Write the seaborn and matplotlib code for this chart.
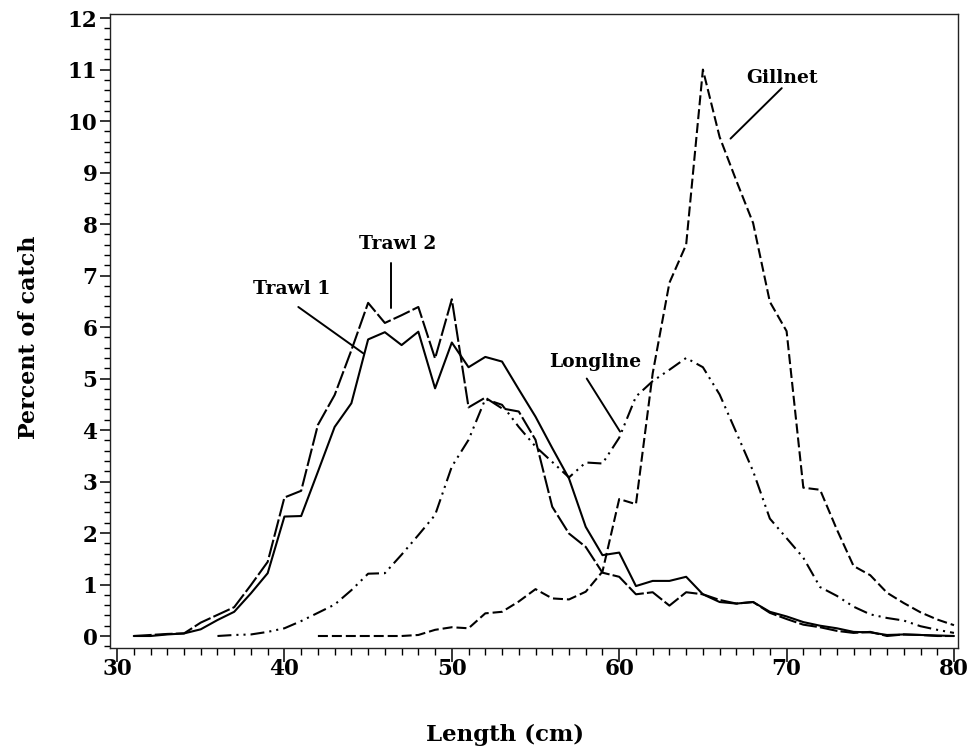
import numpy as np
import pandas as pd
import seaborn as sns
import matplotlib.pyplot as plt
from matplotlib.ticker import MultipleLocator

# Length-frequency of catch (percent) by gear type
trawl_len = list(range(31, 81))
trawl1 = [0.0, 0.0, 0.03, 0.05, 0.13, 0.31, 0.47, 0.83, 1.22, 2.32,
          2.33, 3.19, 4.06, 4.52, 5.76, 5.90, 5.65, 5.91, 4.81, 5.70,
          5.22, 5.42, 5.33, 4.79, 4.26, 3.65, 3.06, 2.12, 1.57, 1.62,
          0.97, 1.07, 1.07, 1.15, 0.81, 0.66, 0.63, 0.66, 0.47, 0.38,
          0.27, 0.20, 0.15, 0.08, 0.07, 0.02, 0.03, 0.02, 0.01, 0.0]
trawl2 = [0.0, 0.02, 0.04, 0.05, 0.26, 0.41, 0.56, 0.99, 1.44, 2.69,
          2.82, 4.10, 4.68, 5.55, 6.47, 6.08, 6.23, 6.39, 5.39, 6.54,
          4.44, 4.63, 4.42, 4.36, 3.81, 2.51, 1.99, 1.73, 1.23, 1.15,
          0.81, 0.85, 0.59, 0.85, 0.81, 0.70, 0.63, 0.66, 0.45, 0.33,
          0.22, 0.17, 0.10, 0.06, 0.08, 0.0, 0.03, 0.02, 0.0, 0.0]
longline_len = list(range(36, 81))
longline = [0.0, 0.02, 0.03, 0.08, 0.15, 0.29, 0.45, 0.61, 0.89, 1.21,
            1.22, 1.58, 1.96, 2.35, 3.29, 3.81, 4.60, 4.49, 4.06, 3.68,
            3.38, 3.08, 3.37, 3.35, 3.85, 4.65, 4.95, 5.17, 5.40, 5.22,
            4.69, 3.95, 3.20, 2.28, 1.90, 1.52, 0.95, 0.78, 0.57, 0.42,
            0.35, 0.30, 0.19, 0.12, 0.06]
gillnet_len = list(range(42, 81))
gillnet = [0.0, 0.0, 0.0, 0.0, 0.0, 0.0, 0.02, 0.12, 0.17, 0.15,
           0.44, 0.47, 0.67, 0.91, 0.73, 0.71, 0.86, 1.25, 2.66, 2.56,
           5.10, 6.86, 7.60, 11.0, 9.69, 8.84, 8.02, 6.49, 5.92, 2.88,
           2.84, 2.07, 1.36, 1.18, 0.84, 0.64, 0.46, 0.32, 0.21]

gears = ["Trawl 1", "Trawl 2", "Longline", "Gillnet"]
x_ticks = [30, 40, 50, 60, 70, 80]
y_ticks = list(range(0, 13))

frames = [
    pd.DataFrame({"Length": trawl_len, "Percent": trawl1, "Gear": "Trawl 1"}),
    pd.DataFrame({"Length": trawl_len, "Percent": trawl2, "Gear": "Trawl 2"}),
    pd.DataFrame({"Length": longline_len, "Percent": longline, "Gear": "Longline"}),
    pd.DataFrame({"Length": gillnet_len, "Percent": gillnet, "Gear": "Gillnet"}),
]
df = pd.concat(frames, ignore_index=True)

sns.set_style("ticks")
plt.rcParams["font.family"] = ["DejaVu Serif"]
plt.rcParams["text.color"] = "black"
plt.rcParams["axes.labelcolor"] = "black"
plt.rcParams["xtick.labelcolor"] = "black"
plt.rcParams["ytick.labelcolor"] = "black"

fig = plt.figure(figsize=(9.69, 7.52), dpi=100)
ax = fig.add_axes([110 / 969, 1 - 648 / 752, 848 / 969, 634 / 752])

line_dashes = {
    "Trawl 1": "",
    "Trawl 2": (8.6, 1.5),
    "Longline": (6.7, 2.4, 1.0, 2.4, 1.0, 2.4),
    "Gillnet": (4.8, 1.9),
}
sns.lineplot(data=df, x="Length", y="Percent", style="Gear", style_order=gears,
             dashes=line_dashes, color="black", linewidth=1.5, legend=False,
             estimator=None, sort=False, ax=ax)

ax.set_xlim(29.58, 80.24)
ax.set_ylim(-0.233, 12.08)
ax.set_xticks(x_ticks)
ax.set_yticks(y_ticks)
ax.xaxis.set_minor_locator(MultipleLocator(1))
ax.yaxis.set_minor_locator(MultipleLocator(0.2))
ax.tick_params(axis="x", which="major", direction="out", length=10, width=1.1,
               color="black", labelcolor="black", labelsize=15.5, pad=-3)
ax.tick_params(axis="x", which="minor", direction="out", length=5, width=1.0,
               color="black")
ax.tick_params(axis="y", which="major", direction="out", length=7, width=1.1,
               color="black", labelcolor="black", labelsize=15.5, pad=2)
ax.tick_params(axis="y", which="minor", direction="out", length=4, width=1.0,
               color="black")
for lab in ax.get_xticklabels() + ax.get_yticklabels():
    lab.set_fontweight("bold")
for sp in ax.spines.values():
    sp.set_linewidth(1.0)
    sp.set_color("#222222")

ax.set_xlabel("Length (cm)", fontsize=16.5, fontweight="bold", color="black")
ax.set_ylabel("Percent of catch", fontsize=16, fontweight="bold", color="black")
ax.xaxis.label.set_va("center")
ax.yaxis.label.set_va("center")
ax.xaxis.set_label_coords(0.466, -0.137)
ax.yaxis.set_label_coords(-0.096, 0.49)

# Curve labels with leader lines
labels = [
    ("Trawl 1", (40.45, 6.74), [(40.83, 6.39), (44.71, 5.49)]),
    ("Trawl 2", (46.79, 7.61), [(46.35, 7.24), (46.35, 6.37)]),
    ("Longline", (58.55, 5.32), [(58.06, 5.00), (60.05, 3.97)]),
    ("Gillnet", (69.72, 10.83), [(69.71, 10.64), (66.65, 9.66)]),
]
for text, (tx, ty), seg in labels:
    ax.text(tx, ty, text, ha="center", va="center", fontsize=13.5,
            fontweight="bold", color="black")
    ax.plot([seg[0][0], seg[1][0]], [seg[0][1], seg[1][1]], color="black",
            linewidth=1.4)

fig.savefig("out.png", dpi=100)
